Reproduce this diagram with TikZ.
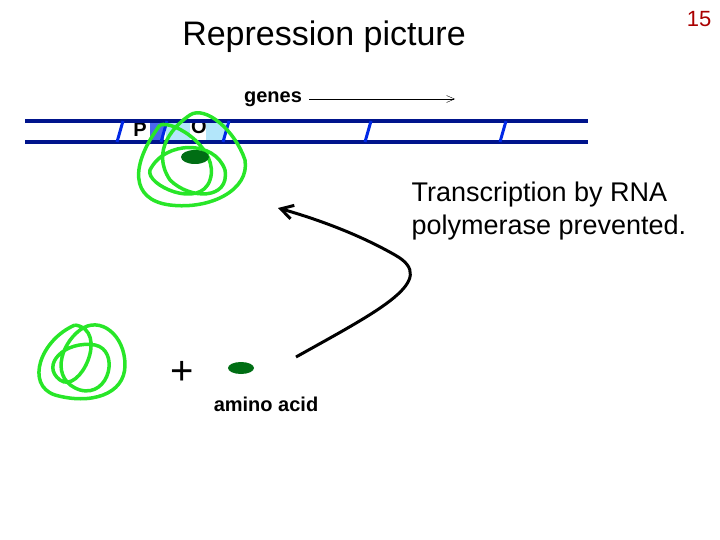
\documentclass[tikz,border=0pt]{standalone}
\usepackage{fontspec}
\setmainfont{Liberation Sans}
\usetikzlibrary{arrows.meta}
\definecolor{dnablue}{RGB}{0,20,140}
\definecolor{slash}{RGB}{0,40,230}
\definecolor{scrib}{RGB}{40,230,40}
\definecolor{dkgreen}{RGB}{0,110,20}
\definecolor{pagenum}{RGB}{170,0,0}
\begin{document}
\begin{tikzpicture}[x=1pt,y=-1pt,
    strand/.style={line width=4pt, dnablue},
    tick/.style={line width=3pt, slash},
    blob/.style={line width=3.5pt, scrib, line join=round},
    ligand/.style={fill=dkgreen, draw=none},
    label/.style={font=\fontsize{27}{33}\selectfont, align=left, anchor=north west},
    hand/.style={font=\fontsize{20}{22}\selectfont\bfseries}
]
\useasboundingbox (0,0) rectangle (720,540);

% Title and page number
\node (title) at (324,37) {\fontsize{34}{40}\selectfont Repression picture};
\node[pagenum] (num) at (699,19) {\fontsize{22}{24}\selectfont 15};

% Promoter and operator boxes
\fill[slash!70] (150,121) rectangle (164,142);
\fill[cyan!30] (166,121) rectangle (226,142);
\fill[white] (190,121) rectangle (206,142);
\node[hand] (prom) at (140,130) {P};
\node[hand] (oper) at (199,127) {O};

% DNA
\draw[strand] (25,121) -- (588,121);
\draw[strand] (25,142) -- (588,142);
\foreach \x in {120,164,226,368,503}
  \draw[tick] (\x+3,121) -- (\x-3,142);

% Genes label
\node[hand] (genes) at (273,99) {genes};
\coordinate (gend) at (455,99);
\draw[-{Straight Barb[length=8pt,width=7pt]}] (genes.east) ++(4,0) -- (gend);

% Bound repressor
\draw[blob] (160,125) .. controls (130,165) and (130,200) .. (170,205)
  .. controls (210,210) and (250,190) .. (245,160)
  .. controls (235,130) and (205,105) .. (190,115)
  .. controls (175,125) and (150,150) .. (170,180)
  .. controls (190,200) and (230,200) .. (225,170)
  .. controls (215,140) and (165,140) .. (150,170)
  .. controls (145,185) and (200,210) .. (210,180)
  .. controls (220,150) and (175,120) .. (160,125);
\draw[ligand] (195,157) ellipse (14 and 7);
\node[label] (tx) at (408,178) {Transcription by RNA\\polymerase prevented.};

% Free repressor + amino acid
\draw[blob] (75,325) .. controls (40,340) and (25,385) .. (55,395)
  .. controls (90,405) and (125,395) .. (125,365)
  .. controls (125,335) and (100,315) .. (80,330)
  .. controls (60,345) and (50,380) .. (80,390)
  .. controls (110,398) and (120,350) .. (95,345)
  .. controls (65,340) and (40,365) .. (60,380)
  .. controls (80,395) and (110,330) .. (75,325);
\node (plus) at (182,373) {\fontsize{40}{44}\selectfont +};
\draw[ligand] (241,368) ellipse (13 and 6);
\node[hand] (aa) at (266,404) {amino acid};

% Binding arrow
\coordinate (astart) at (296,357);
\coordinate (aend) at (278,208);
\draw[line width=3pt, -{Straight Barb[length=12pt,width=14pt]}] (astart)
  .. controls (380,310) and (440,280) .. (395,255)
  .. controls (360,235) and (320,220) .. (aend);
\end{tikzpicture}
\end{document}
